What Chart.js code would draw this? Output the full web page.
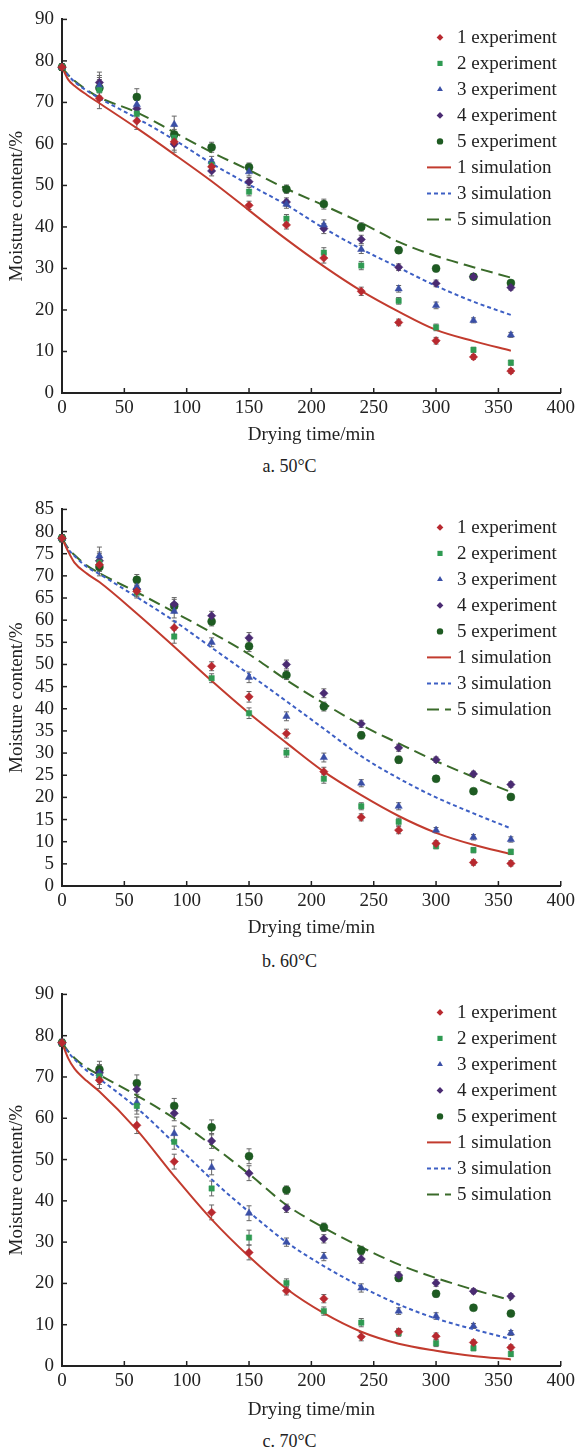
<!DOCTYPE html>
<html>
<head>
<meta charset="utf-8">
<script src="https://cdn.jsdelivr.net/npm/chart.js@4.4.1/dist/chart.umd.min.js"></script>
<style>
  body { margin: 0; background: #fff; width: 579px; height: 1452px; position: relative; overflow: hidden; font-family: "Liberation Serif", serif; color: #222; }
  canvas { position: absolute; left: 0; }
  .cap { position: absolute; left: 0; width: 579px; text-align: center; font-size: 18px; line-height: 20px; }
</style>
</head>
<body>
<canvas id="c50" width="579" height="450" style="top:0px"></canvas>
<div class="cap" style="top:456px">a. 50°C</div>
<canvas id="c60" width="579" height="453" style="top:490px"></canvas>
<div class="cap" style="top:951px">b. 60°C</div>
<canvas id="c70" width="579" height="450" style="top:975px"></canvas>
<div class="cap" style="top:1431px">c. 70°C</div>
<script>
// sampling times (min)
const times = [0, 30, 60, 90, 120, 150, 180, 210, 240, 270, 300, 330, 360];
const simTimes = [0, 5, 10, 20, 30, 60, 90, 120, 150, 180, 210, 240, 270, 300, 330, 360];

// 50 °C
const a1 = [78.5, 71, 65.5, 60.5, 54.5, 45.2, 40.5, 32.5, 24.5, 17, 12.6, 8.7, 5.3];
const a2 = [78.5, 73, 67.3, 61.5, 55, 48.5, 42, 33.8, 30.7, 22.2, 15.8, 10.4, 7.3];
const a3 = [78.5, 74, 69.5, 64.7, 55.8, 53.3, 45.5, 40.5, 34.6, 25.1, 21.1, 17.5, 14];
const a4 = [78.5, 74.8, 68.5, 60, 53.5, 50.9, 46, 39.6, 37, 30.3, 26.4, 28, 25.4];
const a5 = [78.5, 73.5, 71.3, 62.3, 59.2, 54.4, 49.1, 45.5, 40, 34.4, 30, 28, 26.5];
const aErr = [0.8, 2.5, 2, 2, 1.2, 1, 1, 1.2, 1, 0.8, 0.8, 0.6, 0.6];
const aSim1 = [78.5, 75.5, 74, 71.8, 69.8, 63.8, 57.5, 51, 44, 37, 30.5, 24.6, 19.6, 15.2, 12.5, 10.2];
const aSim3 = [78.5, 76.5, 75, 72.8, 71, 66.2, 61, 55.3, 50.2, 45.3, 39.7, 34.7, 30.2, 25.8, 22, 18.8];
const aSim5 = [78.5, 76.6, 75.2, 73, 71.2, 67.6, 62.8, 58, 53.7, 49.2, 45.2, 41, 36.4, 33, 30.3, 27.8];

// 60 °C
const b1 = [78.5, 72.5, 66.5, 58.3, 49.6, 42.7, 34.4, 25.8, 15.5, 12.6, 9.6, 5.3, 5.1];
const b2 = [78.5, 73, 66.2, 56.3, 46.9, 39, 30.1, 24.2, 18, 14.5, 9, 8.1, 7.7];
const b3 = [78.5, 74.5, 67.5, 62, 55, 47.1, 38.3, 29, 23.2, 18, 12.6, 11, 10.5];
const b4 = [78.5, 73.4, 67, 63.6, 61, 56, 50, 43.5, 36.6, 31.2, 28.5, 25.3, 22.9];
const b5 = [78.5, 72, 69.1, 63.2, 59.7, 54.1, 47.6, 40.5, 34, 28.5, 24.2, 21.4, 20.1];
const bErr = [0.8, 2, 1.2, 1.5, 1, 1.2, 1, 1, 0.8, 0.8, 0.6, 0.6, 0.6];
const bSim1 = [78.5, 75.5, 73, 70.5, 68.6, 61.5, 54, 46.3, 39, 32.3, 25.8, 20.5, 15.8, 12, 9.3, 7.2];
const bSim3 = [78.5, 76, 74.5, 72, 70.4, 65.2, 59.8, 53.8, 47.8, 41.7, 35.5, 29.3, 24.3, 20, 16.4, 13];
const bSim5 = [78.5, 76.2, 74.7, 72.3, 70.6, 66.3, 61.8, 57.2, 52.3, 46.5, 41.2, 36.3, 32.2, 28.2, 24.6, 21.2];

// 70 °C
const c1 = [78.3, 69.2, 58.3, 49.5, 37.2, 27.5, 18.2, 16.3, 7.1, 8.3, 7.2, 5.7, 4.5];
const c2 = [78.3, 70.2, 63, 54.3, 43, 31.1, 20.1, 13.3, 10.5, 8, 5.5, 4.3, 2.9];
const c3 = [78.3, 70.8, 63.8, 56.3, 48.1, 37, 30, 26.5, 18.9, 13.3, 12.1, 9.7, 8];
const c4 = [78.3, 71, 67, 61.2, 54.5, 46.7, 38.2, 30.8, 25.9, 22, 20.1, 18.1, 16.9];
const c5 = [78.3, 71.8, 68.5, 63, 57.8, 50.8, 42.6, 33.6, 28, 21.3, 17.5, 14.1, 12.7];
const cErr = [0.8, 2, 2, 1.8, 1.8, 1.8, 1, 1, 1, 0.8, 0.8, 0.6, 0.6];
const cSim1 = [78.3, 74.5, 72, 69, 66.5, 57.2, 46, 35.5, 26.5, 18.7, 12.8, 8.3, 5.4, 3.7, 2.4, 1.6];
const cSim3 = [78.3, 76, 74.3, 71.5, 69.5, 62.5, 54, 45.2, 37.3, 30, 24.2, 19.2, 14.9, 11.5, 8.9, 6.5];
const cSim5 = [78.3, 76.2, 74.6, 72.2, 70.5, 65.5, 60, 53.5, 46.5, 39, 33.5, 28.8, 24.6, 21.3, 18.5, 15.9];

const FONT = '"Liberation Serif", "Times New Roman", serif';
const INK = '#222';

const expStyles = [
  { label: '1 experiment', color: '#b8292f', shape: 'rectRot', r: 4.2 },
  { label: '2 experiment', color: '#2f9a52', shape: 'rect', r: 3.8 },
  { label: '3 experiment', color: '#3a4fa6', shape: 'triangle', r: 4.2 },
  { label: '4 experiment', color: '#4a2b72', shape: 'rectRot', r: 4.2 },
  { label: '5 experiment', color: '#1e5b22', shape: 'circle', r: 4 },
];
const simStyles = [
  { label: '1 simulation', color: '#c23b2e', dash: [] },
  { label: '3 simulation', color: '#3d5fc4', dash: [4, 3] },
  { label: '5 simulation', color: '#3a6b2a', dash: [12, 6] },
];

const pts = (xs, ys) => xs.map((x, i) => ({ x: x, y: ys[i] }));

function shape(ctx, s, r, x, y) {
  ctx.beginPath();
  if (s === 'circle') ctx.arc(x, y, r, 0, Math.PI * 2);
  else if (s === 'rect') { const h = r / Math.SQRT2 * 1.2; ctx.rect(x - h, y - h, 2 * h, 2 * h); }
  else if (s === 'rectRot') { ctx.moveTo(x, y - r); ctx.lineTo(x + r, y); ctx.lineTo(x, y + r); ctx.lineTo(x - r, y); ctx.closePath(); }
  else if (s === 'triangle') { ctx.moveTo(x, y - r); ctx.lineTo(x + r * 0.87, y + r * 0.5); ctx.lineTo(x - r * 0.87, y + r * 0.5); ctx.closePath(); }
  ctx.fill();
}

const extras = {
  id: 'extras',
  beforeDatasetsDraw(chart) {
    const { ctx, scales: { x, y } } = chart;
    ctx.save();
    ctx.strokeStyle = '#666';
    ctx.lineWidth = 1;
    chart.data.datasets.forEach((ds) => {
      if (!ds.err) return;
      ds.data.forEach((p, j) => {
        const e = ds.err[j];
        const px = x.getPixelForValue(p.x);
        const t = y.getPixelForValue(p.y + e), b = y.getPixelForValue(p.y - e);
        ctx.beginPath();
        ctx.moveTo(px, t); ctx.lineTo(px, b);
        ctx.moveTo(px - 2.5, t); ctx.lineTo(px + 2.5, t);
        ctx.moveTo(px - 2.5, b); ctx.lineTo(px + 2.5, b);
        ctx.stroke();
      });
    });
    ctx.restore();
  },
  afterDraw(chart) {
    const { ctx, chartArea: area, scales: { x, y } } = chart;
    ctx.save();
    // inward tick marks
    ctx.strokeStyle = INK;
    ctx.lineWidth = 1.5;
    x.ticks.forEach((t) => {
      const px = x.getPixelForValue(t.value);
      ctx.beginPath(); ctx.moveTo(px, area.bottom); ctx.lineTo(px, area.bottom - 5); ctx.stroke();
    });
    y.ticks.forEach((t) => {
      const py = y.getPixelForValue(t.value);
      ctx.beginPath(); ctx.moveTo(area.left, py); ctx.lineTo(area.left + 5, py); ctx.stroke();
    });
    // legend
    ctx.font = '19px ' + FONT;
    ctx.textBaseline = 'middle';
    ctx.fillStyle = INK;
    let ly = area.top + 18;
    chart.data.datasets.forEach((ds) => {
      if (ds.err) {
        ctx.fillStyle = ds.pointBackgroundColor;
        shape(ctx, ds.pointStyle, ds.pointRadius * 0.8, 440, ly);
      } else {
        ctx.strokeStyle = ds.borderColor;
        ctx.lineWidth = 2;
        ctx.setLineDash(ds.borderDash);
        ctx.beginPath(); ctx.moveTo(427, ly); ctx.lineTo(451, ly); ctx.stroke();
        ctx.setLineDash([]);
      }
      ctx.fillStyle = INK;
      ctx.fillText(ds.label, 457, ly + 1);
      ly += 26;
    });
    ctx.restore();
  },
};

function makeChart(id, exps, err, sims, yMax, yStep, padTop, xHeight) {
  const datasets = [];
  exps.forEach((ys, i) => {
    const s = expStyles[i];
    datasets.push({
      label: s.label,
      data: pts(times, ys),
      err: err,
      pointStyle: s.shape,
      pointRadius: s.r,
      pointBackgroundColor: s.color,
      pointBorderColor: s.color,
      pointBorderWidth: 0.5,
      showLine: false,
      clip: false,
    });
  });
  sims.forEach((ys, i) => {
    const s = simStyles[i];
    datasets.push({
      label: s.label,
      data: pts(simTimes, ys),
      showLine: true,
      borderColor: s.color,
      borderWidth: 2,
      borderDash: s.dash,
      pointRadius: 0,
      cubicInterpolationMode: 'monotone',
      clip: false,
    });
  });

  return new Chart(document.getElementById(id), {
    type: 'scatter',
    data: { datasets: datasets },
    options: {
      responsive: false,
      animation: false,
      layout: { padding: { top: padTop, right: 16, left: 0, bottom: 0 } },
      plugins: { legend: { display: false }, tooltip: { enabled: false } },
      scales: {
        x: {
          type: 'linear',
          min: 0, max: 400,
          ticks: { stepSize: 50, autoSkip: false, maxRotation: 0, color: INK, font: { family: FONT, size: 19 }, padding: 4 },
          grid: { drawOnChartArea: false, drawTicks: false },
          border: { color: INK, width: 2 },
          title: { display: true, text: 'Drying time/min', color: INK, font: { family: FONT, size: 19 }, padding: { top: 2, bottom: 4 } },
          afterFit(s) { s.height = xHeight; },
        },
        y: {
          min: 0, max: yMax,
          ticks: { stepSize: yStep, autoSkip: false, color: INK, font: { family: FONT, size: 19 }, padding: 8 },
          grid: { drawOnChartArea: false, drawTicks: false },
          border: { color: INK, width: 2 },
          title: { display: true, text: 'Moisture content/%', color: INK, font: { family: FONT, size: 19 }, padding: { top: 6, bottom: 4 } },
          afterFit(s) { s.width = 62; },
        },
      },
    },
    plugins: [extras],
  });
}

makeChart('c50', [a1, a2, a3, a4, a5], aErr, [aSim1, aSim3, aSim5], 90, 10, 16, 57);
makeChart('c60', [b1, b2, b3, b4, b5], bErr, [bSim1, bSim3, bSim5], 85, 5, 18, 57);
makeChart('c70', [c1, c2, c3, c4, c5], cErr, [cSim1, cSim3, cSim5], 90, 10, 16, 59);
</script>
</body>
</html>
